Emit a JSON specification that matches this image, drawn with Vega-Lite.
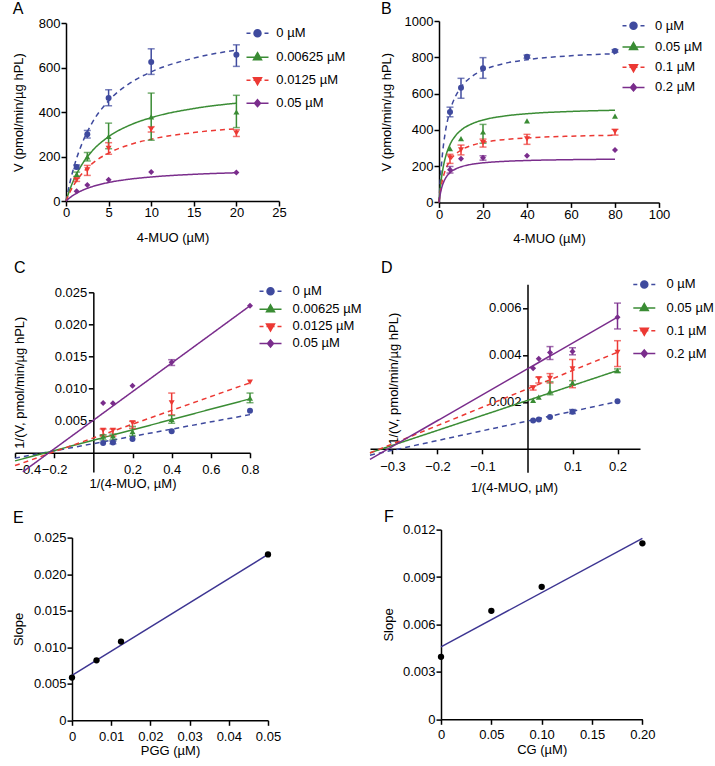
{
"$schema": "https://vega.github.io/schema/vega-lite/v6.json",
"background": "white",
"padding": {"left": 11, "top": -1, "right": 0, "bottom": 0},
"config": {
  "font": "Liberation Sans",
  "view": {"stroke": null},
  "axis": {"grid": false, "domainColor": "#000", "domainWidth": 1.5, "tickColor": "#000", "tickWidth": 1.5, "tickSize": 5, "labelFont": "Liberation Sans", "labelFontSize": 13, "labelColor": "#000", "titleFont": "Liberation Sans", "titleFontSize": 13, "titleFontWeight": "normal", "titleColor": "#000", "labelOverlap": false, "labelFlush": false, "labelBound": false, "tickCount": 20},
  "title": {"font": "Liberation Sans", "fontSize": 16, "fontWeight": "normal", "color": "#000", "anchor": "start", "frame": "group"},
  "legend": {"labelFont": "Liberation Sans", "labelFontSize": 13, "labelColor": "#000", "padding": 0, "symbolSize": 4, "symbolStrokeWidth": 1.5}
},
"datasets": {
  "none": [],
  "aFit": [
    {"c":"0 µM","x":0,"y":0},{"c":"0 µM","x":0.5,"y":89.5},{"c":"0 µM","x":1,"y":161.3},{"c":"0 µM","x":2,"y":269.3},{"c":"0 µM","x":3,"y":346.7},{"c":"0 µM","x":5,"y":450.3},{"c":"0 µM","x":7.5,"y":529.4},{"c":"0 µM","x":10,"y":580.4},{"c":"0 µM","x":15,"y":642.2},{"c":"0 µM","x":20,"y":678.3},
    {"c":"0.00625 µM","x":0,"y":0},{"c":"0.00625 µM","x":0.5,"y":56.6},{"c":"0.00625 µM","x":1,"y":102.3},{"c":"0.00625 µM","x":2,"y":171.6},{"c":"0.00625 µM","x":3,"y":221.7},{"c":"0.00625 µM","x":5,"y":289.1},{"c":"0.00625 µM","x":7.5,"y":341.0},{"c":"0.00625 µM","x":10,"y":374.6},{"c":"0.00625 µM","x":15,"y":415.6},{"c":"0.00625 µM","x":20,"y":439.7},
    {"c":"0.0125 µM","x":0,"y":0},{"c":"0.0125 µM","x":0.5,"y":42.8},{"c":"0.0125 µM","x":1,"y":77.1},{"c":"0.0125 µM","x":2,"y":128.8},{"c":"0.0125 µM","x":3,"y":165.9},{"c":"0.0125 µM","x":5,"y":215.5},{"c":"0.0125 µM","x":7.5,"y":253.5},{"c":"0.0125 µM","x":10,"y":277.9},{"c":"0.0125 µM","x":15,"y":307.6},{"c":"0.0125 µM","x":20,"y":324.9},
    {"c":"0.05 µM","x":0,"y":0},{"c":"0.05 µM","x":0.5,"y":16.2},{"c":"0.05 µM","x":1,"y":29.3},{"c":"0.05 µM","x":2,"y":49.2},{"c":"0.05 µM","x":3,"y":63.6},{"c":"0.05 µM","x":5,"y":83.2},{"c":"0.05 µM","x":7.5,"y":98.2},{"c":"0.05 µM","x":10,"y":108.0},{"c":"0.05 µM","x":15,"y":119.9},{"c":"0.05 µM","x":20,"y":127.0}
  ],
  "aPts": [
    {"c":"0 µM","x":1.25,"y":153},{"c":"0 µM","x":2.5,"y":300},{"c":"0 µM","x":5,"y":463},{"c":"0 µM","x":10,"y":625},{"c":"0 µM","x":20,"y":657},
    {"c":"0.00625 µM","x":1.25,"y":120},{"c":"0.00625 µM","x":2.5,"y":198},{"c":"0.00625 µM","x":5,"y":290},{"c":"0.00625 µM","x":10,"y":378},{"c":"0.00625 µM","x":20,"y":400},
    {"c":"0.0125 µM","x":1.25,"y":95},{"c":"0.0125 µM","x":2.5,"y":140},{"c":"0.0125 µM","x":5,"y":237},{"c":"0.0125 µM","x":10,"y":322},{"c":"0.0125 µM","x":20,"y":305},
    {"c":"0.05 µM","x":1.25,"y":44},{"c":"0.05 µM","x":2.5,"y":72},{"c":"0.05 µM","x":5,"y":95},{"c":"0.05 µM","x":10,"y":130},{"c":"0.05 µM","x":20,"y":128}
  ],
  "aErr": [
    {"c":"0 µM","x":1.25,"lo":145,"hi":162},{"c":"0 µM","x":2.5,"lo":283,"hi":317},{"c":"0 µM","x":5,"lo":428,"hi":500},{"c":"0 µM","x":10,"lo":569,"hi":684},{"c":"0 µM","x":20,"lo":605,"hi":702},
    {"c":"0.00625 µM","x":1.25,"lo":110,"hi":130},{"c":"0.00625 µM","x":2.5,"lo":180,"hi":218},{"c":"0.00625 µM","x":5,"lo":235,"hi":350},{"c":"0.00625 µM","x":10,"lo":273,"hi":485},{"c":"0.00625 µM","x":20,"lo":330,"hi":475},
    {"c":"0.0125 µM","x":1.25,"lo":88,"hi":102},{"c":"0.0125 µM","x":2.5,"lo":115,"hi":160},{"c":"0.0125 µM","x":5,"lo":210,"hi":262},{"c":"0.0125 µM","x":10,"lo":310,"hi":334},{"c":"0.0125 µM","x":20,"lo":290,"hi":320}
  ],
  "bFit": [
    {"c":"0 µM","x":0,"y":0},{"c":"0 µM","x":0.5,"y":107.7},{"c":"0 µM","x":1,"y":191.3},{"c":"0 µM","x":2,"y":312.6},{"c":"0 µM","x":3,"y":396.4},{"c":"0 µM","x":5,"y":504.7},{"c":"0 µM","x":7.5,"y":584.6},{"c":"0 µM","x":10,"y":634.7},{"c":"0 µM","x":15,"y":694.4},{"c":"0 µM","x":20,"y":728.6},{"c":"0 µM","x":30,"y":766.4},{"c":"0 µM","x":40,"y":786.7},{"c":"0 µM","x":60,"y":808.3},{"c":"0 µM","x":80,"y":819.5},
    {"c":"0.05 µM","x":0,"y":0},{"c":"0.05 µM","x":0.5,"y":69.6},{"c":"0.05 µM","x":1,"y":123.0},{"c":"0.05 µM","x":2,"y":199.6},{"c":"0.05 µM","x":3,"y":251.9},{"c":"0.05 µM","x":5,"y":318.7},{"c":"0.05 µM","x":7.5,"y":367.4},{"c":"0.05 µM","x":10,"y":397.7},{"c":"0.05 µM","x":15,"y":433.6},{"c":"0.05 µM","x":20,"y":454.1},{"c":"0.05 µM","x":30,"y":476.6},{"c":"0.05 µM","x":40,"y":488.7},{"c":"0.05 µM","x":60,"y":501.4},{"c":"0.05 µM","x":80,"y":508.0},
    {"c":"0.1 µM","x":0,"y":0},{"c":"0.1 µM","x":0.5,"y":49.8},{"c":"0.1 µM","x":1,"y":88.2},{"c":"0.1 µM","x":2,"y":143.6},{"c":"0.1 µM","x":3,"y":181.6},{"c":"0.1 µM","x":5,"y":230.3},{"c":"0.1 µM","x":7.5,"y":266.1},{"c":"0.1 µM","x":10,"y":288.4},{"c":"0.1 µM","x":15,"y":314.9},{"c":"0.1 µM","x":20,"y":330.0},{"c":"0.1 µM","x":30,"y":346.7},{"c":"0.1 µM","x":40,"y":355.6},{"c":"0.1 µM","x":60,"y":365.1},{"c":"0.1 µM","x":80,"y":370.0},
    {"c":"0.2 µM","x":0,"y":0},{"c":"0.2 µM","x":0.5,"y":40.8},{"c":"0.2 µM","x":1,"y":69.9},{"c":"0.2 µM","x":2,"y":108.9},{"c":"0.2 µM","x":3,"y":133.7},{"c":"0.2 µM","x":5,"y":163.4},{"c":"0.2 µM","x":7.5,"y":183.9},{"c":"0.2 µM","x":10,"y":196.2},{"c":"0.2 µM","x":15,"y":210.3},{"c":"0.2 µM","x":20,"y":218.1},{"c":"0.2 µM","x":30,"y":226.5},{"c":"0.2 µM","x":40,"y":231.0},{"c":"0.2 µM","x":60,"y":235.6},{"c":"0.2 µM","x":80,"y":238.0}
  ],
  "bPts": [
    {"c":"0 µM","x":5,"y":498},{"c":"0 µM","x":10,"y":632},{"c":"0 µM","x":20,"y":740},{"c":"0 µM","x":40,"y":803},{"c":"0 µM","x":80,"y":835},
    {"c":"0.05 µM","x":5,"y":296},{"c":"0.05 µM","x":10,"y":352},{"c":"0.05 µM","x":20,"y":388},{"c":"0.05 µM","x":40,"y":449},{"c":"0.05 µM","x":80,"y":476},
    {"c":"0.1 µM","x":5,"y":246},{"c":"0.1 µM","x":10,"y":290},{"c":"0.1 µM","x":20,"y":330},{"c":"0.1 µM","x":40,"y":350},{"c":"0.1 µM","x":80,"y":390},
    {"c":"0.2 µM","x":5,"y":180},{"c":"0.2 µM","x":10,"y":240},{"c":"0.2 µM","x":20,"y":246},{"c":"0.2 µM","x":40,"y":257},{"c":"0.2 µM","x":80,"y":289}
  ],
  "bErr": [
    {"c":"0 µM","x":5,"lo":472,"hi":525},{"c":"0 µM","x":10,"lo":574,"hi":684},{"c":"0 µM","x":20,"lo":684,"hi":798},{"c":"0 µM","x":40,"lo":795,"hi":812},{"c":"0 µM","x":80,"lo":828,"hi":842},
    {"c":"0.05 µM","x":20,"lo":326,"hi":430},
    {"c":"0.1 µM","x":5,"lo":215,"hi":265},{"c":"0.1 µM","x":10,"lo":262,"hi":316},{"c":"0.1 µM","x":20,"lo":305,"hi":349},{"c":"0.1 µM","x":40,"lo":320,"hi":375},{"c":"0.1 µM","x":80,"lo":371,"hi":403},
    {"c":"0.2 µM","x":5,"lo":162,"hi":198},{"c":"0.2 µM","x":20,"lo":233,"hi":257}
  ],
  "cFit": [
    {"c":"0 µM","x":-0.4,"y":-0.00084},{"c":"0 µM","x":0.8,"y":0.00594},
    {"c":"0.00625 µM","x":-0.4,"y":-0.00127},{"c":"0.00625 µM","x":0.8,"y":0.0084},
    {"c":"0.0125 µM","x":-0.4,"y":-0.002},{"c":"0.0125 µM","x":0.8,"y":0.0109},
    {"c":"0.05 µM","x":-0.36,"y":-0.00297},{"c":"0.05 µM","x":0.8,"y":0.0229}
  ],
  "cPts": [
    {"c":"0 µM","x":0.05,"y":0.00153},{"c":"0 µM","x":0.1,"y":0.00158},{"c":"0 µM","x":0.2,"y":0.00215},{"c":"0 µM","x":0.4,"y":0.00335},{"c":"0 µM","x":0.8,"y":0.00656},
    {"c":"0.00625 µM","x":0.05,"y":0.00257},{"c":"0.00625 µM","x":0.1,"y":0.00262},{"c":"0.00625 µM","x":0.2,"y":0.0033},{"c":"0.00625 µM","x":0.4,"y":0.0052},{"c":"0.00625 µM","x":0.8,"y":0.0085},
    {"c":"0.0125 µM","x":0.05,"y":0.0035},{"c":"0.0125 µM","x":0.1,"y":0.0035},{"c":"0.0125 µM","x":0.2,"y":0.00464},{"c":"0.0125 µM","x":0.4,"y":0.00776},{"c":"0.0125 µM","x":0.8,"y":0.011},
    {"c":"0.05 µM","x":0.05,"y":0.00776},{"c":"0.05 µM","x":0.1,"y":0.0077},{"c":"0.05 µM","x":0.2,"y":0.01045},{"c":"0.05 µM","x":0.4,"y":0.0141},{"c":"0.05 µM","x":0.8,"y":0.0229}
  ],
  "cErr": [
    {"c":"0 µM","x":0.1,"lo":0.0014,"hi":0.0018},
    {"c":"0.00625 µM","x":0.05,"lo":0.002,"hi":0.0028},{"c":"0.00625 µM","x":0.1,"lo":0.002,"hi":0.0029},{"c":"0.00625 µM","x":0.2,"lo":0.0026,"hi":0.0041},{"c":"0.00625 µM","x":0.4,"lo":0.0046,"hi":0.0058},{"c":"0.00625 µM","x":0.8,"lo":0.0078,"hi":0.0093},
    {"c":"0.0125 µM","x":0.05,"lo":0.0026,"hi":0.0037},{"c":"0.0125 µM","x":0.1,"lo":0.0026,"hi":0.0037},{"c":"0.0125 µM","x":0.2,"lo":0.0038,"hi":0.0049},{"c":"0.0125 µM","x":0.4,"lo":0.0059,"hi":0.0093},
    {"c":"0.05 µM","x":0.4,"lo":0.0136,"hi":0.0145}
  ],
  "dFit": [
    {"c":"0 µM","x":-0.35,"y":-0.00027},{"c":"0 µM","x":0.2,"y":0.00201},
    {"c":"0.05 µM","x":-0.35,"y":-0.00017},{"c":"0.05 µM","x":0.2,"y":0.00333},
    {"c":"0.1 µM","x":-0.35,"y":-0.00018},{"c":"0.1 µM","x":0.2,"y":0.00411},
    {"c":"0.2 µM","x":-0.35,"y":-0.00045},{"c":"0.2 µM","x":0.2,"y":0.0056}
  ],
  "dPts": [
    {"c":"0 µM","x":0.0125,"y":0.0012},{"c":"0 µM","x":0.025,"y":0.00125},{"c":"0 µM","x":0.05,"y":0.00135},{"c":"0 µM","x":0.1,"y":0.00158},{"c":"0 µM","x":0.2,"y":0.00202},
    {"c":"0.05 µM","x":0.0125,"y":0.00206},{"c":"0.05 µM","x":0.025,"y":0.0022},{"c":"0.05 µM","x":0.05,"y":0.00245},{"c":"0.05 µM","x":0.1,"y":0.00281},{"c":"0.05 µM","x":0.2,"y":0.00333},
    {"c":"0.1 µM","x":0.0125,"y":0.00258},{"c":"0.1 µM","x":0.025,"y":0.00298},{"c":"0.1 µM","x":0.05,"y":0.003},{"c":"0.1 µM","x":0.1,"y":0.0034},{"c":"0.1 µM","x":0.2,"y":0.0041},
    {"c":"0.2 µM","x":0.0125,"y":0.00343},{"c":"0.2 µM","x":0.025,"y":0.00383},{"c":"0.2 µM","x":0.05,"y":0.0041},{"c":"0.2 µM","x":0.1,"y":0.00414},{"c":"0.2 µM","x":0.2,"y":0.0056}
  ],
  "dErr": [
    {"c":"0 µM","x":0.1,"lo":0.0015,"hi":0.00167},
    {"c":"0.05 µM","x":0.05,"lo":0.0023,"hi":0.00285},{"c":"0.05 µM","x":0.1,"lo":0.00272,"hi":0.0029},{"c":"0.05 µM","x":0.2,"lo":0.00325,"hi":0.0034},
    {"c":"0.1 µM","x":0.0125,"lo":0.0025,"hi":0.00268},{"c":"0.1 µM","x":0.025,"lo":0.0028,"hi":0.00305},{"c":"0.1 µM","x":0.05,"lo":0.0028,"hi":0.0032},{"c":"0.1 µM","x":0.1,"lo":0.0026,"hi":0.0038},{"c":"0.1 µM","x":0.2,"lo":0.0035,"hi":0.0046},
    {"c":"0.2 µM","x":0.05,"lo":0.0038,"hi":0.00435},{"c":"0.2 µM","x":0.1,"lo":0.004,"hi":0.0043},{"c":"0.2 µM","x":0.2,"lo":0.0051,"hi":0.0062}
  ],
  "ePts": [{"x":0,"y":0.00584},{"x":0.00625,"y":0.0082},{"x":0.0125,"y":0.01077},{"x":0.05,"y":0.0227}],
  "eFit": [{"x":0,"y":0.00616},{"x":0.05,"y":0.0227}],
  "fPts": [{"x":0,"y":0.00395},{"x":0.05,"y":0.00686},{"x":0.1,"y":0.00838},{"x":0.2,"y":0.01113}],
  "fFit": [{"x":0,"y":0.00458},{"x":0.2,"y":0.01145}]
},
"spacing": 13.3,
"resolve": {"scale": {"color": "independent", "shape": "independent", "strokeDash": "independent", "stroke": "independent"}},
"vconcat": [
 {"hconcat": [
  {"width": 0.0001, "height": 0.0001, "data": {"name": "none"}, "mark": "point"},
  {"vconcat": [
   {"width": 0.0001, "height": 0.0001, "data": {"name": "none"}, "mark": "point"},
   {"width": 213, "height": 178,
   "title": {"text": "A", "dx": -53.3, "offset": 0.2},
   "resolve": {"scale": {"color": "independent", "shape": "independent", "stroke": "independent"}},
   "layer": [
    {"data": {"name": "aFit"}, "mark": {"type": "line", "strokeWidth": 1.5, "interpolate": "monotone"},
     "encoding": {
      "x": {"field": "x", "type": "quantitative", "title": "4-MUO (µM)", "scale": {"domain": [0, 25], "nice": false}, "axis": {"values": [0,5,10,15,20,25], "tickCount": 20, "format": "d", "labelOverlap": false, "labelPadding": 0.6, "titlePadding": 11.8}},
      "y": {"field": "y", "type": "quantitative", "title": "V (pmol/min/µg hPL)", "scale": {"domain": [0, 800], "nice": false}, "axis": {"values": [0,200,400,600,800], "tickCount": 20, "format": "d", "labelOverlap": false, "labelPadding": 1, "minExtent": 28, "maxExtent": 28, "titlePadding": 13}},
      "color": {"field": "c", "type": "nominal", "scale": {"domain": ["0 µM","0.00625 µM","0.0125 µM","0.05 µM"], "range": ["#3F4A9E","#3A8C34","#EC3934","#7A2D8C"]}, "legend": null},
      "strokeDash": {"field": "c", "type": "nominal", "scale": {"domain": ["0 µM","0.00625 µM","0.0125 µM","0.05 µM"], "range": [[5,4],[1,0],[5,4],[1,0]]}, "legend": null}
     }},
    {"data": {"name": "aErr"}, "mark": {"type": "errorbar", "thickness": 1.5, "ticks": {"size": 7, "thickness": 1.5}},
     "encoding": {
      "x": {"field": "x", "type": "quantitative", "title": "4-MUO (µM)", "scale": {"domain": [0, 25], "nice": false}},
      "y": {"field": "lo", "type": "quantitative", "title": "V (pmol/min/µg hPL)", "scale": {"domain": [0, 800], "nice": false}},
      "y2": {"field": "hi"},
      "color": {"field": "c", "type": "nominal", "scale": {"domain": ["0 µM","0.00625 µM","0.0125 µM","0.05 µM"], "range": ["#3F4A9E","#3A8C34","#EC3934","#7A2D8C"]}, "legend": null}
     }},
    {"data": {"name": "aPts"}, "mark": {"type": "point", "filled": true, "opacity": 1, "size": 36},
     "encoding": {
      "x": {"field": "x", "type": "quantitative", "title": "4-MUO (µM)", "scale": {"domain": [0, 25], "nice": false}},
      "y": {"field": "y", "type": "quantitative", "title": "V (pmol/min/µg hPL)", "scale": {"domain": [0, 800], "nice": false}},
      "shape": {"field": "c", "type": "nominal", "scale": {"domain": ["0 µM","0.00625 µM","0.0125 µM","0.05 µM"], "range": ["circle","triangle-up","triangle-down","diamond"]}, "legend": null},
      "color": {"field": "c", "type": "nominal", "scale": {"domain": ["0 µM","0.00625 µM","0.0125 µM","0.05 µM"], "range": ["#3F4A9E","#3A8C34","#EC3934","#7A2D8C"]}, "legend": null}
     }},
    {"data": {"name": "none"}, "mark": {"type": "point", "filled": true, "opacity": 1},
     "encoding": {
      "color": {"field": "c", "type": "nominal", "scale": {"domain": ["0 µM","0.00625 µM","0.0125 µM","0.05 µM"], "range": ["#3F4A9E","#3A8C34","#EC3934","#7A2D8C"]}, "legend": {"orient": "none", "legendX": 185, "legendY": 3.7, "title": null, "labelOffset": 12.3, "rowPadding": 9, "symbolSize": 4, "symbolStrokeWidth": 1.5}},
      "stroke": {"field": "c", "type": "nominal", "scale": {"domain": ["0 µM","0.00625 µM","0.0125 µM","0.05 µM"], "range": ["#3F4A9E","#3A8C34","#EC3934","#7A2D8C"]}, "legend": {"orient": "none", "legendX": 185, "legendY": 3.7, "title": null, "labelOffset": 12.3, "rowPadding": 9, "symbolSize": 4, "symbolStrokeWidth": 1.5}},
      "shape": {"field": "c", "type": "nominal", "scale": {"domain": ["0 µM","0.00625 µM","0.0125 µM","0.05 µM"], "range": ["M-11,0H-7M-4,0H4M7,0H11M-3.5,0A3.5,3.5,0,1,0,3.5,0A3.5,3.5,0,1,0,-3.5,0Z","M-11,0H11M0,-4.5L4,2.5L-4,2.5Z","M-11,0H-7M-4,0H4M7,0H11M-4,-2.5L4,-2.5L0,4.5Z","M-11,0H11M0,-3.5L3,0L0,3.5L-3,0Z"]}, "legend": {"orient": "none", "legendX": 185, "legendY": 3.7, "title": null, "labelOffset": 12.3, "rowPadding": 9, "symbolSize": 4, "symbolStrokeWidth": 1.5}}
     }}
   ]}
  ], "spacing": 0, "resolve": {"scale": {"color": "independent", "shape": "independent", "strokeDash": "independent", "stroke": "independent"}}},
  {"width": 34, "height": 0.0001, "data": {"name": "none"}, "mark": "point"},
  {"vconcat": [
   {"width": 0.0001, "height": 0.0001, "data": {"name": "none"}, "mark": "point"},
   {"width": 220, "height": 181.4,
   "title": {"text": "B", "dx": -58, "offset": -1.7},
   "resolve": {"scale": {"color": "independent", "shape": "independent", "stroke": "independent"}},
   "layer": [
    {"data": {"name": "bFit"}, "mark": {"type": "line", "strokeWidth": 1.5, "interpolate": "monotone"},
     "encoding": {
      "x": {"field": "x", "type": "quantitative", "title": "4-MUO (µM)", "scale": {"domain": [0, 100], "nice": false}, "axis": {"values": [0,20,40,60,80,100], "tickCount": 20, "format": "d", "labelOverlap": false, "labelPadding": 0.6, "titlePadding": 11.8}},
      "y": {"field": "y", "type": "quantitative", "title": "V (pmol/min/µg hPL)", "scale": {"domain": [0, 1000], "nice": false}, "axis": {"values": [0,200,400,600,800,1000], "tickCount": 20, "format": "d", "labelOverlap": false, "labelPadding": 1, "minExtent": 35, "maxExtent": 35, "titlePadding": 11}},
      "color": {"field": "c", "type": "nominal", "scale": {"domain": ["0 µM","0.05 µM","0.1 µM","0.2 µM"], "range": ["#3F4A9E","#3A8C34","#EC3934","#7A2D8C"]}, "legend": null},
      "strokeDash": {"field": "c", "type": "nominal", "scale": {"domain": ["0 µM","0.05 µM","0.1 µM","0.2 µM"], "range": [[5,4],[1,0],[5,4],[1,0]]}, "legend": null}
     }},
    {"data": {"name": "bErr"}, "mark": {"type": "errorbar", "thickness": 1.5, "ticks": {"size": 7, "thickness": 1.5}},
     "encoding": {
      "x": {"field": "x", "type": "quantitative", "title": "4-MUO (µM)", "scale": {"domain": [0, 100], "nice": false}},
      "y": {"field": "lo", "type": "quantitative", "title": "V (pmol/min/µg hPL)", "scale": {"domain": [0, 1000], "nice": false}},
      "y2": {"field": "hi"},
      "color": {"field": "c", "type": "nominal", "scale": {"domain": ["0 µM","0.05 µM","0.1 µM","0.2 µM"], "range": ["#3F4A9E","#3A8C34","#EC3934","#7A2D8C"]}, "legend": null}
     }},
    {"data": {"name": "bPts"}, "mark": {"type": "point", "filled": true, "opacity": 1, "size": 36},
     "encoding": {
      "x": {"field": "x", "type": "quantitative", "title": "4-MUO (µM)", "scale": {"domain": [0, 100], "nice": false}},
      "y": {"field": "y", "type": "quantitative", "title": "V (pmol/min/µg hPL)", "scale": {"domain": [0, 1000], "nice": false}},
      "shape": {"field": "c", "type": "nominal", "scale": {"domain": ["0 µM","0.05 µM","0.1 µM","0.2 µM"], "range": ["circle","triangle-up","triangle-down","diamond"]}, "legend": null},
      "color": {"field": "c", "type": "nominal", "scale": {"domain": ["0 µM","0.05 µM","0.1 µM","0.2 µM"], "range": ["#3F4A9E","#3A8C34","#EC3934","#7A2D8C"]}, "legend": null}
     }},
    {"data": {"name": "none"}, "mark": {"type": "point", "filled": true, "opacity": 1},
     "encoding": {
      "color": {"field": "c", "type": "nominal", "scale": {"domain": ["0 µM","0.05 µM","0.1 µM","0.2 µM"], "range": ["#3F4A9E","#3A8C34","#EC3934","#7A2D8C"]}, "legend": {"orient": "none", "legendX": 188, "legendY": -1.7, "title": null, "labelOffset": 15, "rowPadding": 6.2, "symbolSize": 4, "symbolStrokeWidth": 1.5}},
      "stroke": {"field": "c", "type": "nominal", "scale": {"domain": ["0 µM","0.05 µM","0.1 µM","0.2 µM"], "range": ["#3F4A9E","#3A8C34","#EC3934","#7A2D8C"]}, "legend": {"orient": "none", "legendX": 188, "legendY": -1.7, "title": null, "labelOffset": 15, "rowPadding": 6.2, "symbolSize": 4, "symbolStrokeWidth": 1.5}},
      "shape": {"field": "c", "type": "nominal", "scale": {"domain": ["0 µM","0.05 µM","0.1 µM","0.2 µM"], "range": ["M-11,0H-7M-4,0H4M7,0H11M-3.5,0A3.5,3.5,0,1,0,3.5,0A3.5,3.5,0,1,0,-3.5,0Z","M-11,0H11M0,-4.5L4,2.5L-4,2.5Z","M-11,0H-7M-4,0H4M7,0H11M-4,-2.5L4,-2.5L0,4.5Z","M-11,0H11M0,-3.5L3,0L0,3.5L-3,0Z"]}, "legend": {"orient": "none", "legendX": 188, "legendY": -1.7, "title": null, "labelOffset": 15, "rowPadding": 6.2, "symbolSize": 4, "symbolStrokeWidth": 1.5}}
     }}
   ]}
  ], "spacing": 0, "resolve": {"scale": {"color": "independent", "shape": "independent", "strokeDash": "independent", "stroke": "independent"}}}
 ], "spacing": 0, "resolve": {"scale": {"color": "independent", "shape": "independent", "strokeDash": "independent", "stroke": "independent"}}},
 {"hconcat": [
  {"width": 0.0001, "height": 0.0001, "data": {"name": "none"}, "mark": "point"},
  {"vconcat": [
   {"width": 0.0001, "height": 0.0001, "data": {"name": "none"}, "mark": "point"},
   {"width": 235, "height": 179.7,
   "title": {"text": "C", "dx": -1, "offset": 8.4},
   "resolve": {"scale": {"color": "independent", "shape": "independent", "stroke": "independent"}},
   "layer": [
    {"data": {"name": "cFit"}, "mark": {"type": "line", "strokeWidth": 1.5},
     "encoding": {
      "x": {"field": "x", "type": "quantitative", "title": "1/(4-MUO, µM)", "scale": {"domain": [-0.4, 0.8], "nice": false, "zero": false}, "axis": {"values": [-0.4,-0.2,0.2,0.4,0.6,0.8], "tickCount": 20, "format": ".1f", "labelOverlap": false, "offset": -19.25, "labelPadding": 5.9, "titlePadding": 0.5, "labelAlign": {"condition": {"test": "datum.value < -0.3", "value": "left"}, "value": "center"}}},
      "y": {"field": "y", "type": "quantitative", "title": "1/(V, pmol/min/µg hPL)", "scale": {"domain": [-0.003, 0.025], "nice": false, "zero": false}, "axis": {"values": [0.005,0.01,0.015,0.02,0.025], "tickCount": 20, "format": ".3f", "labelOverlap": false, "offset": -78.33, "labelPadding": 1.5, "minExtent": 40, "maxExtent": 40, "titlePadding": 27}},
      "color": {"field": "c", "type": "nominal", "scale": {"domain": ["0 µM","0.00625 µM","0.0125 µM","0.05 µM"], "range": ["#3F4A9E","#3A8C34","#EC3934","#7A2D8C"]}, "legend": null},
      "strokeDash": {"field": "c", "type": "nominal", "scale": {"domain": ["0 µM","0.00625 µM","0.0125 µM","0.05 µM"], "range": [[5,4],[1,0],[5,4],[1,0]]}, "legend": null}
     }},
    {"data": {"name": "cErr"}, "mark": {"type": "errorbar", "thickness": 1.5, "ticks": {"size": 7, "thickness": 1.5}},
     "encoding": {
      "x": {"field": "x", "type": "quantitative", "title": "1/(4-MUO, µM)", "scale": {"domain": [-0.4, 0.8], "nice": false, "zero": false}},
      "y": {"field": "lo", "type": "quantitative", "title": "1/(V, pmol/min/µg hPL)", "scale": {"domain": [-0.003, 0.025], "nice": false, "zero": false}},
      "y2": {"field": "hi"},
      "color": {"field": "c", "type": "nominal", "scale": {"domain": ["0 µM","0.00625 µM","0.0125 µM","0.05 µM"], "range": ["#3F4A9E","#3A8C34","#EC3934","#7A2D8C"]}, "legend": null}
     }},
    {"data": {"name": "cPts"}, "mark": {"type": "point", "filled": true, "opacity": 1, "size": 36},
     "encoding": {
      "x": {"field": "x", "type": "quantitative", "title": "1/(4-MUO, µM)", "scale": {"domain": [-0.4, 0.8], "nice": false, "zero": false}},
      "y": {"field": "y", "type": "quantitative", "title": "1/(V, pmol/min/µg hPL)", "scale": {"domain": [-0.003, 0.025], "nice": false, "zero": false}},
      "shape": {"field": "c", "type": "nominal", "scale": {"domain": ["0 µM","0.00625 µM","0.0125 µM","0.05 µM"], "range": ["circle","triangle-up","triangle-down","diamond"]}, "legend": null},
      "color": {"field": "c", "type": "nominal", "scale": {"domain": ["0 µM","0.00625 µM","0.0125 µM","0.05 µM"], "range": ["#3F4A9E","#3A8C34","#EC3934","#7A2D8C"]}, "legend": null}
     }},
    {"data": {"name": "none"}, "mark": {"type": "point", "filled": true, "opacity": 1},
     "encoding": {
      "color": {"field": "c", "type": "nominal", "scale": {"domain": ["0 µM","0.00625 µM","0.0125 µM","0.05 µM"], "range": ["#3F4A9E","#3A8C34","#EC3934","#7A2D8C"]}, "legend": {"orient": "none", "legendX": 249, "legendY": -7.6, "title": null, "labelOffset": 15.6, "rowPadding": 3.1, "symbolSize": 4, "symbolStrokeWidth": 1.5}},
      "stroke": {"field": "c", "type": "nominal", "scale": {"domain": ["0 µM","0.00625 µM","0.0125 µM","0.05 µM"], "range": ["#3F4A9E","#3A8C34","#EC3934","#7A2D8C"]}, "legend": {"orient": "none", "legendX": 249, "legendY": -7.6, "title": null, "labelOffset": 15.6, "rowPadding": 3.1, "symbolSize": 4, "symbolStrokeWidth": 1.5}},
      "shape": {"field": "c", "type": "nominal", "scale": {"domain": ["0 µM","0.00625 µM","0.0125 µM","0.05 µM"], "range": ["M-11,0H-7M-4,0H4M7,0H11M-3.5,0A3.5,3.5,0,1,0,3.5,0A3.5,3.5,0,1,0,-3.5,0Z","M-11,0H11M0,-4.5L4,2.5L-4,2.5Z","M-11,0H-7M-4,0H4M7,0H11M-4,-2.5L4,-2.5L0,4.5Z","M-11,0H11M0,-3.5L3,0L0,3.5L-3,0Z"]}, "legend": {"orient": "none", "legendX": 249, "legendY": -7.6, "title": null, "labelOffset": 15.6, "rowPadding": 3.1, "symbolSize": 4, "symbolStrokeWidth": 1.5}}
     }}
   ]}
  ], "spacing": 0, "resolve": {"scale": {"color": "independent", "shape": "independent", "strokeDash": "independent", "stroke": "independent"}}},
  {"width": 4.7, "height": 0.0001, "data": {"name": "none"}, "mark": "point"},
  {"vconcat": [
   {"width": 0.0001, "height": 0.0001, "data": {"name": "none"}, "mark": "point"},
   {"width": 270, "height": 188,
   "title": {"text": "D", "dx": 11, "offset": 1.5},
   "resolve": {"scale": {"color": "independent", "shape": "independent", "stroke": "independent"}},
   "layer": [
    {"data": {"name": "dFit"}, "mark": {"type": "line", "strokeWidth": 1.5},
     "encoding": {
      "x": {"field": "x", "type": "quantitative", "title": "1/(4-MUO, µM)", "scale": {"domain": [-0.35, 0.25], "nice": false, "zero": false}, "axis": {"values": [-0.3,-0.2,-0.1,0.1,0.2], "tickCount": 20, "format": ".1f", "labelOverlap": false, "offset": -23.5, "labelPadding": 7, "titlePadding": 7.5, "titleX": 144}},
      "y": {"field": "y", "type": "quantitative", "title": "1/(V, pmol/min/µg hPL)", "scale": {"domain": [-0.001, 0.007], "nice": false, "zero": false}, "axis": {"values": [0.002,0.004,0.006], "tickCount": 20, "format": ".3f", "labelOverlap": false, "offset": -157.5, "labelPadding": 1.5, "minExtent": 40, "maxExtent": 40, "titlePadding": 87}},
      "color": {"field": "c", "type": "nominal", "scale": {"domain": ["0 µM","0.05 µM","0.1 µM","0.2 µM"], "range": ["#3F4A9E","#3A8C34","#EC3934","#7A2D8C"]}, "legend": null},
      "strokeDash": {"field": "c", "type": "nominal", "scale": {"domain": ["0 µM","0.05 µM","0.1 µM","0.2 µM"], "range": [[5,4],[1,0],[5,4],[1,0]]}, "legend": null}
     }},
    {"data": {"name": "dErr"}, "mark": {"type": "errorbar", "thickness": 1.5, "ticks": {"size": 7, "thickness": 1.5}},
     "encoding": {
      "x": {"field": "x", "type": "quantitative", "title": "1/(4-MUO, µM)", "scale": {"domain": [-0.35, 0.25], "nice": false, "zero": false}},
      "y": {"field": "lo", "type": "quantitative", "title": "1/(V, pmol/min/µg hPL)", "scale": {"domain": [-0.001, 0.007], "nice": false, "zero": false}},
      "y2": {"field": "hi"},
      "color": {"field": "c", "type": "nominal", "scale": {"domain": ["0 µM","0.05 µM","0.1 µM","0.2 µM"], "range": ["#3F4A9E","#3A8C34","#EC3934","#7A2D8C"]}, "legend": null}
     }},
    {"data": {"name": "dPts"}, "mark": {"type": "point", "filled": true, "opacity": 1, "size": 36},
     "encoding": {
      "x": {"field": "x", "type": "quantitative", "title": "1/(4-MUO, µM)", "scale": {"domain": [-0.35, 0.25], "nice": false, "zero": false}},
      "y": {"field": "y", "type": "quantitative", "title": "1/(V, pmol/min/µg hPL)", "scale": {"domain": [-0.001, 0.007], "nice": false, "zero": false}},
      "shape": {"field": "c", "type": "nominal", "scale": {"domain": ["0 µM","0.05 µM","0.1 µM","0.2 µM"], "range": ["circle","triangle-up","triangle-down","diamond"]}, "legend": null},
      "color": {"field": "c", "type": "nominal", "scale": {"domain": ["0 µM","0.05 µM","0.1 µM","0.2 µM"], "range": ["#3F4A9E","#3A8C34","#EC3934","#7A2D8C"]}, "legend": null}
     }},
    {"data": {"name": "none"}, "mark": {"type": "point", "filled": true, "opacity": 1},
     "encoding": {
      "color": {"field": "c", "type": "nominal", "scale": {"domain": ["0 µM","0.05 µM","0.1 µM","0.2 µM"], "range": ["#3F4A9E","#3A8C34","#EC3934","#7A2D8C"]}, "legend": {"orient": "none", "legendX": 267.8, "legendY": -6.4, "title": null, "labelOffset": 15.7, "rowPadding": 8.7, "symbolSize": 4, "symbolStrokeWidth": 1.5}},
      "stroke": {"field": "c", "type": "nominal", "scale": {"domain": ["0 µM","0.05 µM","0.1 µM","0.2 µM"], "range": ["#3F4A9E","#3A8C34","#EC3934","#7A2D8C"]}, "legend": {"orient": "none", "legendX": 267.8, "legendY": -6.4, "title": null, "labelOffset": 15.7, "rowPadding": 8.7, "symbolSize": 4, "symbolStrokeWidth": 1.5}},
      "shape": {"field": "c", "type": "nominal", "scale": {"domain": ["0 µM","0.05 µM","0.1 µM","0.2 µM"], "range": ["M-11,0H-7M-4,0H4M7,0H11M-3.5,0A3.5,3.5,0,1,0,3.5,0A3.5,3.5,0,1,0,-3.5,0Z","M-11,0H11M0,-4.5L4,2.5L-4,2.5Z","M-11,0H-7M-4,0H4M7,0H11M-4,-2.5L4,-2.5L0,4.5Z","M-11,0H11M0,-3.5L3,0L0,3.5L-3,0Z"]}, "legend": {"orient": "none", "legendX": 267.8, "legendY": -6.4, "title": null, "labelOffset": 15.7, "rowPadding": 8.7, "symbolSize": 4, "symbolStrokeWidth": 1.5}}
     }}
   ]}
  ], "spacing": 0, "resolve": {"scale": {"color": "independent", "shape": "independent", "strokeDash": "independent", "stroke": "independent"}}}
 ], "spacing": 0, "resolve": {"scale": {"color": "independent", "shape": "independent", "strokeDash": "independent", "stroke": "independent"}}},
 {"hconcat": [
  {"width": 0.0001, "height": 0.0001, "data": {"name": "none"}, "mark": "point"},
  {"vconcat": [
   {"width": 0.0001, "height": 0.0001, "data": {"name": "none"}, "mark": "point"},
   {"width": 196, "height": 182.7,
   "title": {"text": "E", "dx": -59, "offset": 6.1},
   "layer": [
    {"data": {"name": "eFit"}, "mark": {"type": "line", "strokeWidth": 1.5, "color": "#3D3592"},
     "encoding": {
      "x": {"field": "x", "type": "quantitative", "title": "PGG (µM)", "scale": {"domain": [0, 0.05], "nice": false}, "axis": {"values": [0,0.01,0.02,0.03,0.04,0.05], "tickCount": 20, "labelOverlap": false, "labelExpr": "datum.value == 0 ? '0' : format(datum.value, '.2f')", "labelPadding": 5, "titlePadding": 1.4}},
      "y": {"field": "y", "type": "quantitative", "title": "Slope", "scale": {"domain": [0, 0.025], "nice": false}, "axis": {"values": [0,0.005,0.01,0.015,0.02,0.025], "tickCount": 20, "labelOverlap": false, "labelExpr": "datum.value == 0 ? '0' : format(datum.value, '.3f')", "labelPadding": 1, "minExtent": 38, "maxExtent": 38, "titlePadding": 8.8}}
     }},
    {"data": {"name": "ePts"}, "mark": {"type": "point", "filled": true, "opacity": 1, "size": 40, "color": "#000"},
     "encoding": {
      "x": {"field": "x", "type": "quantitative", "title": "PGG (µM)", "scale": {"domain": [0, 0.05], "nice": false}},
      "y": {"field": "y", "type": "quantitative", "title": "Slope", "scale": {"domain": [0, 0.025], "nice": false}}
     }}
   ]}
  ], "spacing": 0},
  {"width": 101, "height": 0.0001, "data": {"name": "none"}, "mark": "point"},
  {"vconcat": [
   {"width": 0.0001, "height": 0.0001, "data": {"name": "none"}, "mark": "point"},
   {"width": 201.4, "height": 189.7,
   "title": {"text": "F", "dx": -57, "offset": -1.4},
   "layer": [
    {"data": {"name": "fFit"}, "mark": {"type": "line", "strokeWidth": 1.5, "color": "#3D3592"},
     "encoding": {
      "x": {"field": "x", "type": "quantitative", "title": "CG (µM)", "scale": {"domain": [0, 0.2], "nice": false}, "axis": {"values": [0,0.05,0.1,0.15,0.2], "tickCount": 20, "labelOverlap": false, "labelExpr": "datum.value == 0 ? '0' : format(datum.value, '.2f')", "labelPadding": 4.3, "titlePadding": 1.7}},
      "y": {"field": "y", "type": "quantitative", "title": "Slope", "scale": {"domain": [0, 0.012], "nice": false}, "axis": {"values": [0,0.003,0.006,0.009,0.012], "tickCount": 20, "labelOverlap": false, "labelExpr": "datum.value == 0 ? '0' : format(datum.value, '.3f')", "labelPadding": 1, "minExtent": 38, "maxExtent": 38, "titlePadding": 7.8}}
     }},
    {"data": {"name": "fPts"}, "mark": {"type": "point", "filled": true, "opacity": 1, "size": 40, "color": "#000"},
     "encoding": {
      "x": {"field": "x", "type": "quantitative", "title": "CG (µM)", "scale": {"domain": [0, 0.2], "nice": false}},
      "y": {"field": "y", "type": "quantitative", "title": "Slope", "scale": {"domain": [0, 0.012], "nice": false}}
     }}
   ]}
  ], "spacing": 0}
 ], "spacing": 0, "resolve": {"scale": {"color": "independent", "shape": "independent", "strokeDash": "independent", "stroke": "independent"}}}
]
}
